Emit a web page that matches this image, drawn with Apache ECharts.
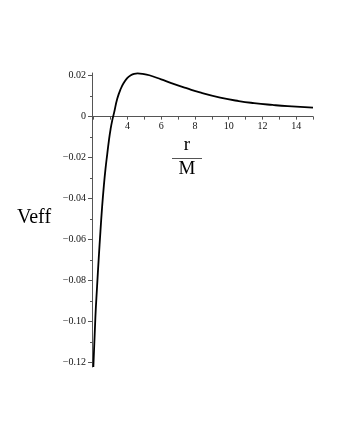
<!DOCTYPE html>
<html>
<head>
<meta charset="utf-8">
<script src="https://cdn.jsdelivr.net/npm/echarts@6/dist/echarts.min.js"></script>
<style>
  html, body { margin: 0; padding: 0; background: #fff; }
  #chart { width: 340px; height: 440px; }
</style>
</head>
<body>
<div id="chart"></div>
<script>
// r/M values and Veff
var rValues = [1.98, 2.1, 2.2, 2.3, 2.4, 2.5, 2.6, 2.7, 2.8, 2.9, 3.0, 3.1, 3.2, 3.4, 3.6, 3.8, 4.0, 4.2, 4.4, 4.6, 4.9, 5.3, 6.0, 6.6, 7.5, 8.3, 9.5, 10.6, 11.5, 12.6, 13.5, 15];
var veffValues = [-0.1222, -0.098, -0.083, -0.069, -0.056, -0.044, -0.034, -0.0255, -0.0185, -0.0118, -0.0062, -0.0018, 0.0016, 0.0088, 0.0135, 0.0167, 0.0189, 0.0202, 0.0209, 0.0211, 0.0209, 0.0202, 0.0182, 0.0164, 0.0139, 0.0118, 0.0093, 0.0076, 0.0066, 0.0057, 0.0051, 0.0044];

var xTicks = [2, 3, 4, 5, 6, 7, 8, 9, 10, 11, 12, 13, 14, 15];
var xLabels = [4, 6, 8, 10, 12, 14];
var yLabels = [-0.12, -0.1, -0.08, -0.06, -0.04, -0.02, 0, 0.02];
var yMinorTicks = [-0.11, -0.09, -0.07, -0.05, -0.03, -0.01, 0.01];

var yMin = -0.1222, yMax = 0.0213;
var gridTop = 73, gridBottom = 73, chartH = 440;

var serif = '"Liberation Serif", "DejaVu Serif", serif';

var points = [];
for (var i = 0; i < rValues.length; i++) {
    points.push([rValues[i], veffValues[i]]);
}

function fmtY(v) {
    if (Math.abs(v) < 1e-9) return '0';
    return v.toFixed(2).replace('-', '\u2212');
}

// move the x axis up to Veff = 0
var plotH = chartH - gridTop - gridBottom;
var zeroOffset = -(yMin / (yMin - yMax)) * plotH;

var chart = echarts.init(document.getElementById('chart'));
var option = {
    backgroundColor: '#fff',
    animation: false,
    grid: { left: 92, right: 27, top: gridTop, bottom: gridBottom },
    xAxis: {
        type: 'value',
        position: 'bottom',
        offset: zeroOffset,
        min: 1.9,
        max: 15,
        axisLine: { onZero: false, lineStyle: { color: '#555', width: 1 } },
        axisTick: { customValues: xTicks, length: 3, lineStyle: { color: '#555' } },
        axisLabel: {
            customValues: xLabels,
            margin: 5,
            fontFamily: serif,
            fontSize: 10,
            color: '#111'
        },
        splitLine: { show: false }
    },
    yAxis: [{
        type: 'value',
        min: yMin,
        max: yMax,
        axisLine: { show: true, onZero: false, lineStyle: { color: '#555', width: 1 } },
        axisTick: { customValues: yLabels, length: 4, lineStyle: { color: '#555' } },
        axisLabel: {
            customValues: yLabels,
            margin: 6,
            fontFamily: serif,
            fontSize: 10,
            color: '#111',
            formatter: fmtY
        },
        splitLine: { show: false }
    }, {
        type: 'value',
        position: 'left',
        min: yMin,
        max: yMax,
        axisLine: { show: false },
        axisTick: { customValues: yMinorTicks, length: 2, lineStyle: { color: '#555' } },
        axisLabel: { show: false },
        splitLine: { show: false }
    }],
    graphic: [
        {
            type: 'text',
            left: 17, top: 208,
            style: { text: 'Veff', font: '20px ' + serif, fill: '#000' }
        },
        {
            type: 'text',
            x: 187, y: 155,
            style: { text: 'r', font: '19px ' + serif, fill: '#000', align: 'center', verticalAlign: 'bottom' }
        },
        {
            type: 'line',
            shape: { x1: 172, y1: 158.5, x2: 202, y2: 158.5 },
            style: { stroke: '#555', lineWidth: 1 }
        },
        {
            type: 'text',
            x: 187, y: 179,
            style: { text: 'M', font: '19px ' + serif, fill: '#000', align: 'center', verticalAlign: 'bottom' }
        }
    ],
    series: [{
        type: 'line',
        data: points,
        showSymbol: false,
        smooth: 0.5,
        clip: true,
        lineStyle: { color: '#000', width: 1.8 }
    }]
};
chart.setOption(option);
</script>
</body>
</html>
